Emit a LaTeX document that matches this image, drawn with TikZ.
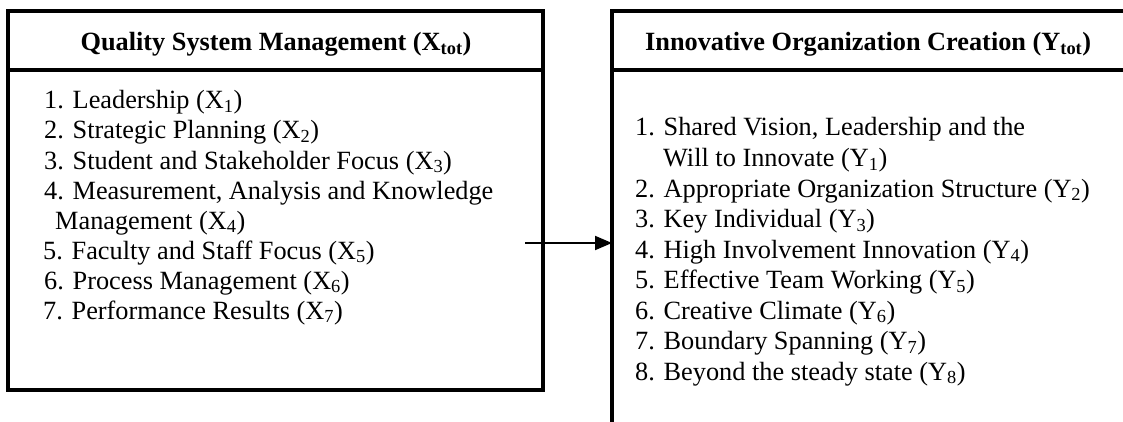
\documentclass[tikz,border=0pt]{standalone}
\usepackage{fontspec}
\setmainfont{Liberation Serif}
\usetikzlibrary{arrows.meta}
\begin{document}
\begin{tikzpicture}[x=1pt,y=-1pt,
  frame/.style={draw, line width=3.5pt, rectangle, inner sep=0pt, outer sep=0pt, anchor=north west},
  item/.style={anchor=base west, inner sep=0pt, font=\fontsize{26.3}{30}\selectfont},
  headtxt/.style={inner sep=0pt, font=\fontsize{26.3}{30}\selectfont\bfseries},
  link/.style={line width=2pt, -{Triangle[length=17pt,width=14pt]}}]
\useasboundingbox (0,0) rectangle (1123,422);
\begin{scope}
\clip (0,0) rectangle (1123,422);
% left box
\node[frame, minimum width=535pt, minimum height=59pt] (lh) at (8,11) {};
\node[frame, minimum width=535pt, minimum height=320pt] (lb) at (8,70) {};
% right box
\node[frame, minimum width=568pt, minimum height=59pt] (rh) at (612,11) {};
\node[frame, minimum width=568pt, minimum height=400pt] (rb) at (612,70) {};
\end{scope}
% headers
\node[headtxt, anchor=base] (lht) at (276,51) {Quality System Management (X\textsubscript{tot})};
\node[headtxt, anchor=base west] (rht) at (645,51) {Innovative Organization Creation (Y\textsubscript{tot})};
% left items
\node[item] (x1) at (44,109) {1. Leadership (X\textsubscript{1})};
\node[item] (x2) at (44,139) {2. Strategic Planning (X\textsubscript{2})};
\node[item] (x3) at (44,169) {3. Student and Stakeholder Focus (X\textsubscript{3})};
\node[item] (x4) at (44,199) {4. Measurement, Analysis and Knowledge};
\node[item] (x4b) at (55,229) {Management (X\textsubscript{4})};
\node[item] (x5) at (43,259) {5. Faculty and Staff Focus (X\textsubscript{5})};
\node[item] (x6) at (44,289) {6. Process Management (X\textsubscript{6})};
\node[item] (x7) at (43,319) {7. Performance Results (X\textsubscript{7})};
% right items
\node[item] (y1) at (635,136) {1. Shared Vision, Leadership and the};
\node[item] (y1b) at (663,166.5) {Will to Innovate (Y\textsubscript{1})};
\node[item] (y2) at (635,197) {2. Appropriate Organization Structure (Y\textsubscript{2})};
\node[item] (y3) at (635,227.5) {3. Key Individual (Y\textsubscript{3})};
\node[item] (y4) at (635,258) {4. High Involvement Innovation (Y\textsubscript{4})};
\node[item] (y5) at (635,288.5) {5. Effective Team Working (Y\textsubscript{5})};
\node[item] (y6) at (635,319) {6. Creative Climate (Y\textsubscript{6})};
\node[item] (y7) at (635,349.5) {7. Boundary Spanning (Y\textsubscript{7})};
\node[item] (y8) at (635,380) {8. Beyond the steady state (Y\textsubscript{8})};
% arrow
\coordinate (as) at (525,243);
\draw[link] (as) -- (as -| rb.west);
\end{tikzpicture}
\end{document}
